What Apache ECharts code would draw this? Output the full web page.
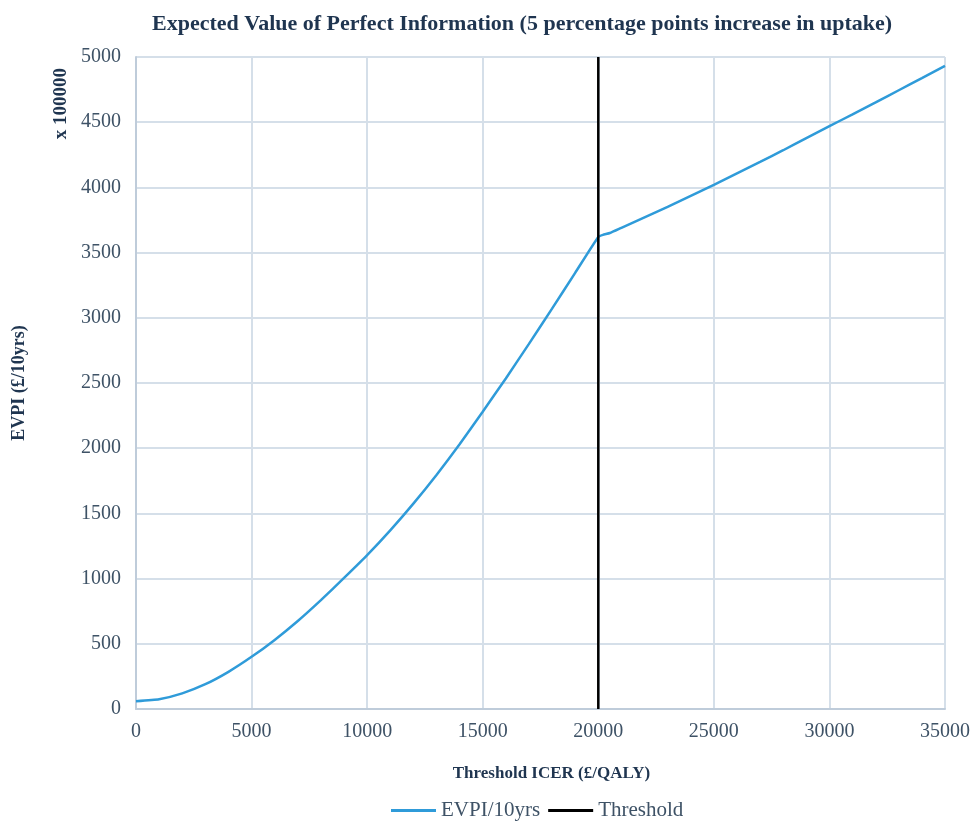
<!DOCTYPE html>
<html>
<head>
<meta charset="utf-8">
<script src="https://cdn.jsdelivr.net/npm/echarts@6/dist/echarts.min.js"></script>
<style>html,body{margin:0;padding:0;background:#fff;}#c{width:973px;height:827px;}</style>
</head>
<body>
<div id="c"></div>
<script>
const thresholdIcer = [0,1000,2000,3000,4000,5000,6000,7000,8000,9000,10000,11000,12000,13000,14000,15000,16000,17000,18000,19000,20000,20200,20500,21000,22000,23000,24000,25000,26000,27000,28000,29000,30000,31000,32000,33000,34000,35000];
const evpi10yrs = [60,75,120,190,285,400,530,675,835,1005,1180,1370,1575,1795,2030,2280,2535,2800,3070,3345,3620,3636,3650,3690,3770,3850,3935,4020,4108,4195,4285,4378,4470,4560,4652,4745,4838,4932];
const thresholdX = [20000,20000];
const thresholdY = [0,5000];

const font = 'Liberation Serif';
const navy = '#1F3550';
const tickCol = '#3E5266';
const chart = echarts.init(document.getElementById('c'));
chart.setOption({
  animation:false,
  title:{text:'Expected Value of Perfect Information (5 percentage points increase in uptake)',left:147,top:8,
    textStyle:{fontFamily:font,fontSize:22,fontWeight:'bold',color:navy}},
  legend:{bottom:1,left:386,itemWidth:45,itemHeight:3,itemGap:8,
    textStyle:{fontFamily:font,fontSize:21,color:tickCol},
    data:[{name:'EVPI/10yrs',icon:'rect'},{name:'Threshold',icon:'rect'}]},
  grid:{left:136,right:28,top:57,bottom:118},
  xAxis:{type:'value',min:0,max:35000,interval:5000,
    name:'Threshold ICER (£/QALY)',nameLocation:'middle',nameGap:56,
    nameTextStyle:{fontFamily:font,fontSize:17,fontWeight:'bold',color:navy,padding:[0,0,0,22]},
    axisLine:{show:true,lineStyle:{color:'#BFCCDA',width:2}},axisTick:{show:false},
    axisLabel:{fontFamily:font,fontSize:20,color:tickCol,margin:13,formatter:v=>String(v)},
    splitLine:{show:true,lineStyle:{color:'#D5DFE9',width:2}}},
  yAxis:{type:'value',min:0,max:5000,interval:500,
    name:'EVPI (£/10yrs)',nameLocation:'middle',nameGap:108,
    nameTextStyle:{fontFamily:font,fontSize:18,fontWeight:'bold',color:navy},
    axisLine:{show:true,lineStyle:{color:'#BFCCDA',width:2}},axisTick:{show:false},
    axisLabel:{fontFamily:font,fontSize:20,color:tickCol,margin:15,formatter:v=>String(v)},
    splitLine:{show:true,lineStyle:{color:'#D5DFE9',width:2}}},
  graphic:[{type:'text',left:52,top:68,rotation:Math.PI/2,
    style:{text:'x 100000',font:'bold 19px "Liberation Serif"',fill:navy}}],
  series:[
    {name:'EVPI/10yrs',type:'line',symbol:'none',smooth:0.15,
      lineStyle:{color:'#2F9BD9',width:2.5},itemStyle:{color:'#2F9BD9'},
      data:thresholdIcer.map((x,i)=>[x,evpi10yrs[i]])},
    {name:'Threshold',type:'line',symbol:'none',
      lineStyle:{color:'#000000',width:2.5},itemStyle:{color:'#000000'},
      data:thresholdX.map((x,i)=>[x,thresholdY[i]])}
  ]
});
</script>
</body>
</html>
